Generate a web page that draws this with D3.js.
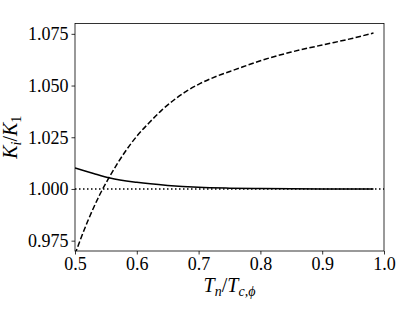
<!DOCTYPE html>
<html lang="en">
<head>
  <meta charset="utf-8" />
  <title>K ratio</title>
  <script src="https://cdn.jsdelivr.net/npm/d3@7"></script>
  <style>
    body { margin: 0; background: #fff; }
    text { font-family: "Liberation Serif", "DejaVu Serif", serif; fill: #000; }
  </style>
</head>
<body>
  <script>
    // data
    var dashedX = [0.50, 0.52, 0.54, 0.56, 0.58, 0.60, 0.62, 0.64, 0.66, 0.68, 0.70, 0.73, 0.76, 0.80, 0.85, 0.90, 0.95, 0.983];
    var dashedY = [0.9685, 0.9840, 0.9972, 1.0080, 1.0175, 1.0255, 1.0320, 1.0380, 1.0430, 1.0472, 1.0506, 1.0546, 1.0578, 1.0620, 1.0662, 1.0696, 1.0729, 1.0754];
    var solidX = [0.5, 0.53, 0.5566, 0.6, 0.65, 0.7, 0.75, 0.8, 0.9, 0.983];
    var solidY = [1.0102, 1.0075, 1.0053, 1.0032, 1.0017, 1.0008, 1.0004, 1.0002, 1.0000, 1.0000];
    var refLine = 1.0;
    var xTicks = [0.5, 0.6, 0.7, 0.8, 0.9, 1.0];
    var yTicks = [0.975, 1.000, 1.025, 1.050, 1.075];

    var width = 414, height = 310;
    var pLeft = 75, pRight = 384, pTop = 23.5, pBottom = 251;

    var svg = d3.select("body").append("svg")
      .attr("width", width)
      .attr("height", height);

    var x = d3.scaleLinear().domain([0.5, 1.0]).range([pLeft, pRight]);
    var y = d3.scaleLinear().domain([0.97, 1.08]).range([pBottom, pTop]);

    var line = d3.line()
      .x(function (d) { return x(d[0]); })
      .y(function (d) { return y(d[1]); })
      .curve(d3.curveMonotoneX);

    svg.append("defs").append("clipPath").attr("id", "clip")
      .append("rect")
      .attr("x", pLeft).attr("y", pTop)
      .attr("width", pRight - pLeft).attr("height", pBottom - pTop);

    var plot = svg.append("g").attr("clip-path", "url(#clip)");

    // dotted reference
    plot.append("path")
      .datum([[0.5, refLine], [1.0, refLine]])
      .attr("d", line)
      .attr("fill", "none")
      .attr("stroke", "#000")
      .attr("stroke-width", 1.5)
      .attr("stroke-dasharray", "1.5,2.5");

    plot.append("path")
      .datum(solidX.map(function (v, i) { return [v, solidY[i]]; }))
      .attr("d", line)
      .attr("fill", "none")
      .attr("stroke", "#000")
      .attr("stroke-width", 1.5);

    plot.append("path")
      .datum(dashedX.map(function (v, i) { return [v, dashedY[i]]; }))
      .attr("d", line)
      .attr("fill", "none")
      .attr("stroke", "#000")
      .attr("stroke-width", 1.5)
      .attr("stroke-dasharray", "5.5,2.4");

    // axes
    var xAxis = svg.append("g")
      .attr("transform", "translate(0," + pBottom + ")")
      .call(d3.axisBottom(x).tickValues(xTicks).tickFormat(d3.format(".1f")).tickSize(3.5).tickPadding(3));
    var yAxis = svg.append("g")
      .attr("transform", "translate(" + pLeft + ",0)")
      .call(d3.axisLeft(y).tickValues(yTicks).tickFormat(d3.format(".3f")).tickSize(3.5).tickPadding(3));

    [xAxis, yAxis].forEach(function (a) {
      a.select(".domain").remove();
      a.selectAll("line").attr("stroke", "#000").attr("stroke-width", 0.8);
      a.selectAll("text").attr("font-size", 18).attr("font-family", "Liberation Serif");
    });

    svg.append("rect")
      .attr("x", pLeft).attr("y", pTop)
      .attr("width", pRight - pLeft).attr("height", pBottom - pTop)
      .attr("fill", "none")
      .attr("stroke", "#000")
      .attr("stroke-width", 0.8);

    // axis labels
    var xl = svg.append("text")
      .attr("x", (pLeft + pRight) / 2)
      .attr("y", 292)
      .attr("text-anchor", "middle")
      .attr("font-size", 20);
    xl.append("tspan").attr("font-style", "italic").text("T");
    xl.append("tspan").attr("font-style", "italic").attr("font-size", 14).attr("dy", 4).text("n");
    xl.append("tspan").attr("dy", -4).text("/");
    xl.append("tspan").attr("font-style", "italic").text("T");
    xl.append("tspan").attr("font-style", "italic").attr("font-size", 14).attr("dy", 4).text("c,ϕ");

    var yl = svg.append("text")
      .attr("transform", "translate(17," + (pTop + pBottom) / 2 + ") rotate(-90)")
      .attr("text-anchor", "middle")
      .attr("font-size", 20);
    yl.append("tspan").attr("font-style", "italic").text("K");
    yl.append("tspan").attr("font-style", "italic").attr("font-size", 14).attr("dy", 4).text("i");
    yl.append("tspan").attr("dy", -4).text("/");
    yl.append("tspan").attr("font-style", "italic").text("K");
    yl.append("tspan").attr("font-size", 14).attr("dy", 4).text("1");
  </script>
</body>
</html>
